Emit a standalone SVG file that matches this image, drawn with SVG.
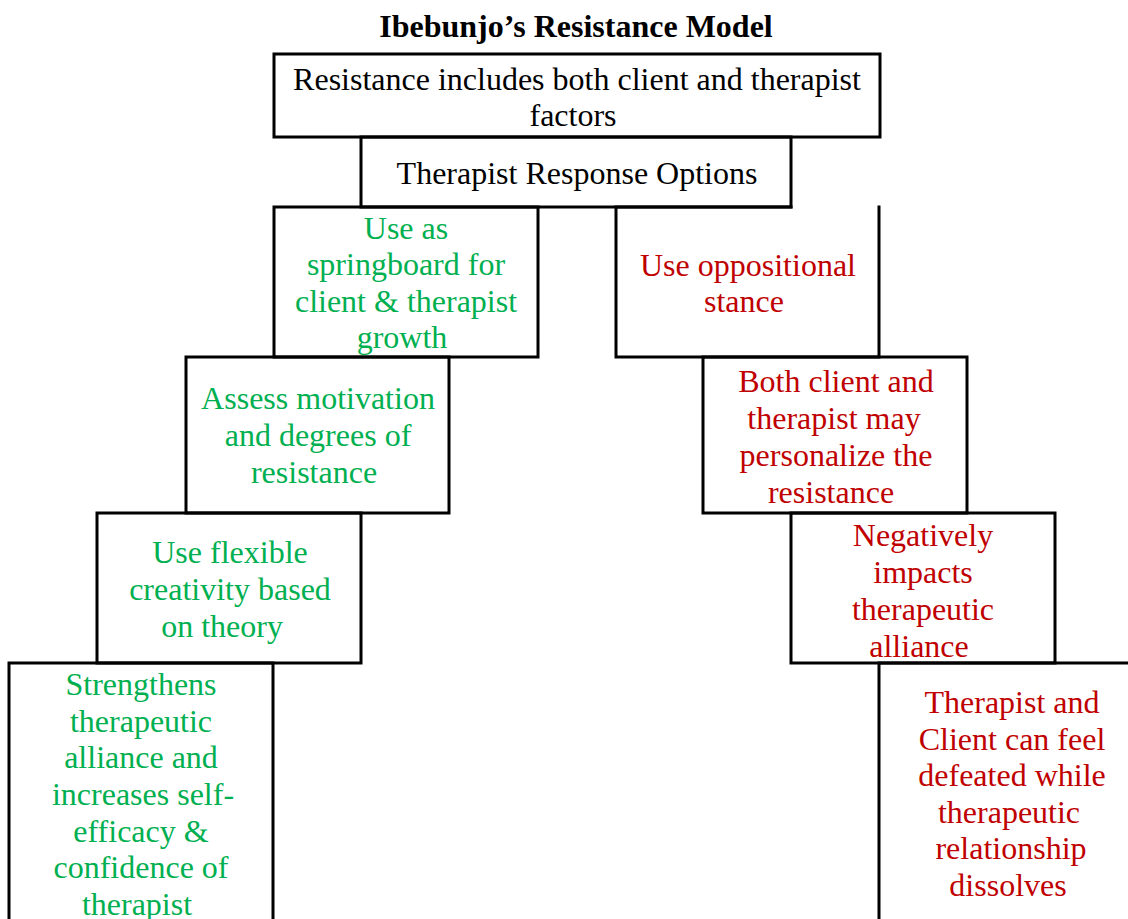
<svg xmlns="http://www.w3.org/2000/svg" width="1128" height="919" viewBox="0 0 1128 919">
<style>
.b{fill:none;stroke:#000;stroke-width:3;stroke-linecap:square;stroke-linejoin:miter}
text{font-family:"Liberation Serif","Times New Roman",serif;font-size:32px;text-anchor:middle}
.k{fill:#000}
.g{fill:#00B050}
.r{fill:#C00000}
.t{font-weight:bold;fill:#000}
</style>
<rect width="1128" height="919" fill="#fff"/>
<text class="t" x="576" y="37">Ibebunjo’s Resistance Model</text>
<g id="connectors"></g>
<g id="n-top">
<rect class="b" x="274" y="54" width="606" height="83"/>
<text class="k" x="577" y="90">Resistance includes both client and therapist</text>
<text class="k" x="573" y="126">factors</text>
</g>
<g id="n-options">
<rect class="b" x="361" y="137" width="430" height="70"/>
<text class="k" x="577" y="184">Therapist Response Options</text>
</g>
<g id="n-springboard">
<rect class="b" x="274" y="207" width="264" height="150"/>
<text class="g" x="406" y="239">Use as</text>
<text class="g" x="406" y="275">springboard for</text>
<text class="g" x="406" y="312">client &amp; therapist</text>
<text class="g" x="402" y="348">growth</text>
</g>
<g id="n-oppositional">
<path class="b" d="M879,207 V357 H616 V207 H791"/>
<text class="r" x="748" y="276">Use oppositional</text>
<text class="r" x="744" y="312">stance</text>
</g>
<g id="n-assess">
<rect class="b" x="186" y="357" width="263" height="156"/>
<text class="g" x="318" y="409">Assess motivation</text>
<text class="g" x="318" y="446">and degrees of</text>
<text class="g" x="314" y="483">resistance</text>
</g>
<g id="n-personalize">
<rect class="b" x="703" y="357" width="264" height="156"/>
<text class="r" x="836" y="392">Both client and</text>
<text class="r" x="834" y="429">therapist may</text>
<text class="r" x="836" y="466">personalize the</text>
<text class="r" x="831" y="503">resistance</text>
</g>
<g id="n-flexible">
<rect class="b" x="97" y="513" width="264" height="150"/>
<text class="g" x="230" y="563">Use flexible</text>
<text class="g" x="230" y="600">creativity based</text>
<text class="g" x="222" y="637">on theory</text>
</g>
<g id="n-negatively">
<rect class="b" x="791" y="513" width="264" height="150"/>
<text class="r" x="923" y="546">Negatively</text>
<text class="r" x="923" y="583">impacts</text>
<text class="r" x="923" y="620">therapeutic</text>
<text class="r" x="919" y="657">alliance</text>
</g>
<g id="n-strengthens">
<path class="b" d="M9,921 V663 H273 V921"/>
<text class="g" x="141" y="695">Strengthens</text>
<text class="g" x="141" y="732">therapeutic</text>
<text class="g" x="141" y="768">alliance and</text>
<text class="g" x="143" y="805">increases self-</text>
<text class="g" x="141" y="842">efficacy &amp;</text>
<text class="g" x="141" y="878">confidence of</text>
<text class="g" x="137" y="915">therapist</text>
</g>
<g id="n-defeated">
<path class="b" d="M879,921 V663 H1130"/>
<text class="r" x="1012" y="713">Therapist and</text>
<text class="r" x="1012" y="750">Client can feel</text>
<text class="r" x="1012" y="786">defeated while</text>
<text class="r" x="1009" y="823">therapeutic</text>
<text class="r" x="1011" y="859">relationship</text>
<text class="r" x="1008" y="896">dissolves</text>
</g>
</svg>
